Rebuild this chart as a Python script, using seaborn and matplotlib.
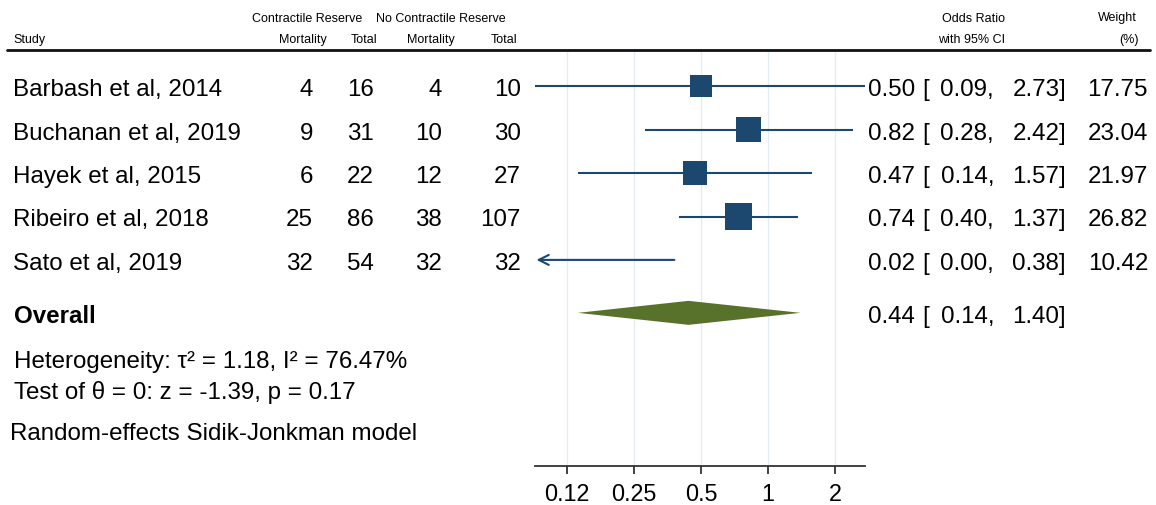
import numpy as np
import pandas as pd
import matplotlib
matplotlib.use("Agg")
import matplotlib.pyplot as plt
import matplotlib.transforms as mtransforms
import seaborn as sns

# ---------------- data ----------------
studies = ["Barbash et al, 2014", "Buchanan et al, 2019", "Hayek et al, 2015",
           "Ribeiro et al, 2018", "Sato et al, 2019"]
cr_mort = [4, 9, 6, 25, 32]
cr_total = [16, 31, 22, 86, 54]
ncr_mort = [4, 10, 12, 38, 32]
ncr_total = [10, 30, 27, 107, 32]
odds_ratio = [0.50, 0.82, 0.47, 0.74, 0.02]
ci_low = [0.09, 0.28, 0.14, 0.40, 0.00]
ci_high = [2.73, 2.42, 1.57, 1.37, 0.38]
weights = [17.75, 23.04, 21.97, 26.82, 10.42]
overall_or, overall_lo, overall_hi = 0.44, 0.14, 1.40
tick_values = [0.125, 0.25, 0.5, 1, 2]
tick_labels = ["0.12", "0.25", "0.5", "1", "2"]
x_range = (0.0899, 2.73)
het_text = "Heterogeneity: τ² = 1.18, I² = 76.47%"
test_text = "Test of θ = 0: z = -1.39, p = 0.17"
model_text = "Random-effects Sidik-Jonkman model"

# ---------------- style ----------------
sns.set_theme(style="white")
plt.rcParams["font.family"] = ["Liberation Sans", "DejaVu Sans"]
plt.rcParams["text.color"] = "black"
plt.rcParams["xtick.color"] = "#333333"
plt.rcParams["xtick.labelcolor"] = "black"

W, H = 1156, 506
fig = plt.figure(figsize=(W / 100, H / 100), dpi=100)


def fx(x):
    return x / W


def fy(y):
    return 1 - y / H


ax_left, ax_right, ax_top, ax_bot = 535, 865, 52, 467
ax = fig.add_axes([fx(ax_left), fy(ax_bot), (ax_right - ax_left) / W, (ax_bot - ax_top) / H])

row_px0, row_step = 87.3, 43.4
ax.set_xscale("log")
ax.set_xlim(*x_range)
ax.set_ylim((ax_bot - row_px0) / row_step, (ax_top - row_px0) / row_step)

navy = "#1c4870"
green = "#58722c"

rows = np.arange(len(studies), dtype=float)
overall_y = 5.22

df = pd.DataFrame({"study": studies, "y": rows, "or": odds_ratio, "lo": ci_low,
                   "hi": ci_high, "w": weights})

# gridlines
for t in tick_values:
    ax.axvline(t, color="#e2edf1", lw=1.0, zorder=0)

# CI lines (with arrow if below range)
xmin = x_range[0]
for _, r in df.iterrows():
    if r["lo"] < xmin:
        ax.annotate("", xy=(xmin * 1.015, r["y"]), xytext=(r["hi"], r["y"]),
                    arrowprops=dict(arrowstyle="->,head_length=0.6,head_width=0.3",
                                    color=navy, lw=1.5, shrinkA=0, shrinkB=0))
    else:
        ax.hlines(r["y"], max(r["lo"], xmin), min(r["hi"], x_range[1]), color=navy, lw=1.5, zorder=2)

# weighted squares
vis = df[df["or"] >= xmin]
sns.scatterplot(data=vis, x="or", y="y", size="w", sizes=(0, 1413), size_norm=(0, 100),
                marker="s", color=navy, linewidth=0, legend=False, ax=ax, zorder=3)

# overall diamond
dh = 12 / row_step
ax.fill([overall_lo, overall_or, overall_hi, overall_or],
        [overall_y, overall_y - dh, overall_y, overall_y + dh],
        color=green, lw=0, zorder=3)

# axes styling
for s in ["top", "right", "left"]:
    ax.spines[s].set_visible(False)
ax.spines["bottom"].set_color("#333333")
ax.spines["bottom"].set_linewidth(1.3)
ax.set_yticks([])
ax.set_xticks(tick_values)
ax.set_xticklabels(tick_labels)
ax.xaxis.set_minor_locator(matplotlib.ticker.NullLocator())
ax.tick_params(axis="x", direction="out", length=6, width=1.3, color="#333333",
               labelsize=16.8, pad=5.5, bottom=True, labelcolor="black")
ax.set_xlabel("")
ax.set_ylabel("")

# ---------------- text ----------------
tr = mtransforms.blended_transform_factory(fig.transFigure, ax.transData)
fs = 17.4
base = 0.205  # baseline offset in row units

for i, r in df.iterrows():
    yb = r["y"] + base
    fig.text(fx(13), yb, r["study"], transform=tr, fontsize=fs, ha="left", va="baseline")
    fig.text(fx(313), yb, str(cr_mort[i]), transform=tr, fontsize=fs, ha="right", va="baseline")
    fig.text(fx(374), yb, str(cr_total[i]), transform=tr, fontsize=fs, ha="right", va="baseline")
    fig.text(fx(442), yb, str(ncr_mort[i]), transform=tr, fontsize=fs, ha="right", va="baseline")
    fig.text(fx(521), yb, str(ncr_total[i]), transform=tr, fontsize=fs, ha="right", va="baseline")


def or_text(y, o, lo, hi):
    yb = y + base
    fig.text(fx(915), yb, f"{o:.2f}", transform=tr, fontsize=fs, ha="right", va="baseline")
    fig.text(fx(922), yb, "[", transform=tr, fontsize=fs, ha="left", va="baseline")
    fig.text(fx(994), yb, f"{lo:.2f},", transform=tr, fontsize=fs, ha="right", va="baseline")
    fig.text(fx(1066), yb, f"{hi:.2f}]", transform=tr, fontsize=fs, ha="right", va="baseline")


for i, r in df.iterrows():
    or_text(r["y"], r["or"], r["lo"], r["hi"])
    fig.text(fx(1148), r["y"] + base, f"{r['w']:.2f}", transform=tr, fontsize=fs,
             ha="right", va="baseline")

fig.text(fx(14), overall_y + base, "Overall", transform=tr, fontsize=fs,
         fontweight="bold", ha="left", va="baseline")
or_text(overall_y, overall_or, overall_lo, overall_hi)

fig.text(fx(14), fy(368), het_text, fontsize=fs, ha="left", va="baseline")
fig.text(fx(14), fy(399.5), test_text, fontsize=fs, ha="left", va="baseline")
fig.text(fx(10), fy(440.5), model_text, fontsize=fs, ha="left", va="baseline")

# headers
hs = 9.0
fig.text(fx(306.7), fy(21.5), "Contractile Reserve", fontsize=hs, ha="center", va="baseline")
fig.text(fx(440.8), fy(21.5), "No Contractile Reserve", fontsize=hs, ha="center", va="baseline")
fig.text(fx(973), fy(21.5), "Odds Ratio", fontsize=hs, ha="center", va="baseline")
fig.text(fx(1117), fy(21.5), "Weight", fontsize=hs, ha="center", va="baseline")
fig.text(fx(13), fy(43.3), "Study", fontsize=hs, ha="left", va="baseline")
fig.text(fx(303), fy(43.3), "Mortality", fontsize=hs, ha="center", va="baseline")
fig.text(fx(364), fy(43.3), "Total", fontsize=hs, ha="center", va="baseline")
fig.text(fx(431), fy(43.3), "Mortality", fontsize=hs, ha="center", va="baseline")
fig.text(fx(504), fy(43.3), "Total", fontsize=hs, ha="center", va="baseline")
fig.text(fx(972), fy(43.3), "with 95% CI", fontsize=hs, ha="center", va="baseline")
fig.text(fx(1129), fy(43.3), "(%)", fontsize=hs, ha="center", va="baseline")

# header rule
fig.add_artist(matplotlib.lines.Line2D([fx(7), fx(1150)], [fy(50.7), fy(50.7)],
                                       color="#111111", lw=2.0))

fig.savefig("out.png", dpi=100)
